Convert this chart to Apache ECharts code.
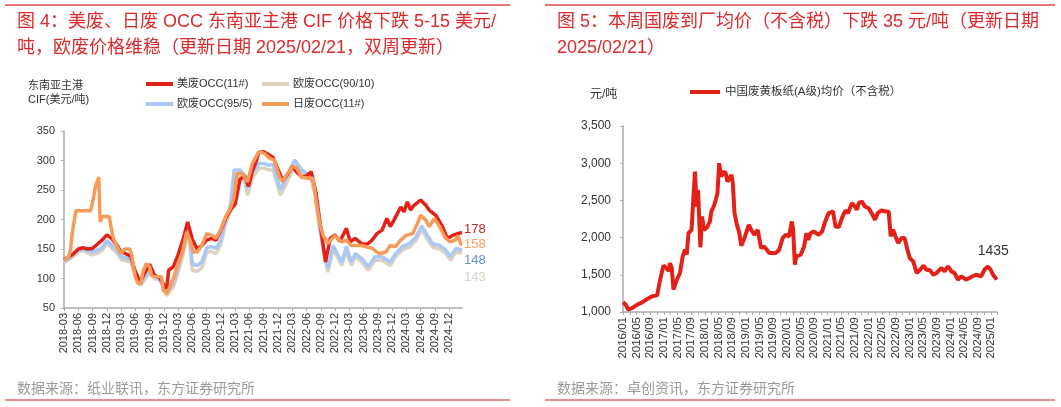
<!DOCTYPE html>
<html>
<head>
<meta charset="utf-8">
<title>废纸价格</title>
<script src="https://cdn.jsdelivr.net/npm/echarts@6/dist/echarts.min.js"></script>
<style>
  html, body { margin: 0; padding: 0; background: #fff; }
  #chart { width: 1061px; height: 407px; }
</style>
</head>
<body>
<div id="chart"></div>
<script>
// 左图：x = 自 2018-03 起的月数
const leftTicks = ['2018-03', '2018-06', '2018-09', '2018-12', '2019-03', '2019-06', '2019-09', '2019-12',
  '2020-03', '2020-06', '2020-09', '2020-12', '2021-03', '2021-06', '2021-09', '2021-12',
  '2022-03', '2022-06', '2022-09', '2022-12', '2023-03', '2023-06', '2023-09', '2023-12',
  '2024-03', '2024-06', '2024-09', '2024-12']

const usOcc11 = [[0,132],[1,137],[2,142],[3,150],[4,152],[5,150],[6,151],[7,158],[8,165],[9,174],[10,168],[11,158],[12,145],[13,142],[14,138],[15,112],[16,94],[17,110],[18,124],[19,106],[20,102],[21,90],[21.6,83],[22,114],[23,120],[24,140],[25,165],[26,196],[27,166],[28,150],[29,156],[30,165],[31,168],[32,165],[33,182],[34,202],[35,216],[36,226],[37,268],[38,274],[38.8,256],[39.6,282],[40.3,296],[41,314],[42,315],[43,310],[44,305],[45,285],[46,266],[47,276],[48,290],[49,280],[50,272],[51,274],[52,281],[53,245],[54,185],[55,128],[56,168],[57,174],[58,163],[59.4,185],[60.2,162],[61.2,168],[62.6,159],[63.7,158],[64.8,165],[65.8,176],[66.9,182],[67.9,202],[68.6,188],[69.4,199],[70.8,221],[71.5,213],[72.2,230],[72.9,216],[73.6,224],[75,233],[76.1,224],[76.8,216],[78.2,207],[79.6,188],[80.6,168],[81.7,173],[82.8,176],[83.7,178]]

const euOcc9010 = [[0,127],[1,132],[2,138],[3,145],[4,148],[5,143],[6,140],[7,143],[8,147],[9,160],[10,152],[11,145],[12,132],[13,130],[14,128],[15,105],[16,88],[17,98],[18,112],[19,100],[20,97],[21,85],[21.6,71],[22,74],[23,86],[24,110],[25,140],[26.2,178],[27,114],[28,112],[29,118],[30,145],[31,146],[32,142],[33,159],[34,193],[35,216],[35.8,268],[37,272],[38,264],[38.6,241],[39.6,270],[41,287],[42,287],[43,284],[44,284],[45.5,241],[47,265],[48.5,292],[50,278],[52,267],[52.7,245],[53.5,198],[54.5,148],[55.5,111],[56.6,151],[58.4,122],[59.4,148],[60.4,122],[61.3,137],[62.6,128],[64,114],[65.4,131],[66.9,131],[68.6,122],[69.7,137],[71.1,148],[72.6,153],[74,164],[75.2,183],[76.4,167],[77.5,153],[79,150],[80.3,142],[81.3,131],[82.4,145],[83.7,143]]

const euOcc955 = [[0,129],[1,134],[2,140],[3,148],[4,150],[5,147],[6,145],[7,148],[8,152],[9,164],[10,157],[11,150],[12,137],[13,135],[14,132],[15,108],[16,91],[17,102],[18,116],[19,103],[20,100],[21,88],[21.6,75],[22,78],[23,92],[24,118],[25,150],[26.2,188],[27,125],[28,122],[29,128],[30,152],[31,154],[32,151],[33,165],[34,199],[35,224],[35.8,284],[37,284],[38,275],[38.6,253],[39.6,278],[41,295],[42,295],[43,292],[44,293],[45.5,250],[47,275],[48.5,301],[50,284],[52,272],[52.7,255],[53.5,205],[54.5,154],[55.5,117],[56.6,156],[58.4,128],[59.4,154],[60.4,128],[61.3,142],[62.6,134],[64,120],[65.4,137],[66.9,137],[68.6,128],[69.7,142],[71.1,154],[72.6,159],[74,170],[75.2,189],[76.4,173],[77.5,159],[79,156],[80.3,148],[81.3,137],[82.4,151],[83.7,148]]

const jpOcc11 = [[0,130],[1,137],[1.4,150],[1.7,175],[2.5,215],[5.6,215],[6,228],[6.6,255],[7,255],[7.3,272],[7.6,196],[8.1,205],[9.5,205],[10.3,170],[11,156],[12,142],[12.7,150],[13.8,150],[14.2,142],[14.9,105],[15.5,92],[16.2,92],[16.6,111],[17.3,125],[18,120],[18.4,105],[19.5,103],[20.5,103],[20.9,80],[21.6,74],[22.3,86],[23,100],[24,125],[25,148],[25.8,179],[26.5,165],[27.2,145],[28,145],[29,156],[30,176],[31.1,173],[32,168],[32.9,182],[34,205],[35,219],[35.7,236],[36.4,278],[37.5,278],[38.6,264],[39.6,295],[41,315],[42.1,312],[43.2,304],[44.2,301],[45.3,272],[46,264],[47,278],[48,289],[48.8,289],[49.9,272],[51.3,270],[52.4,270],[53.1,227],[53.8,193],[54.5,173],[55.5,159],[57,173],[58.4,162],[59.4,165],[60.4,156],[62.6,156],[64.8,151],[66.3,142],[67.7,145],[68.6,156],[69.7,154],[70.8,165],[71.9,173],[73.3,176],[74.3,193],[75,207],[76.1,199],[76.8,188],[77.9,202],[79,188],[80.1,170],[81.2,162],[82.3,165],[82.8,173],[83.5,158],[83.7,158]]

// 右图：x = 自 2016/01 起的月数
const rightTicks = ['2016/01', '2016/05', '2016/09', '2017/01', '2017/05', '2017/09', '2018/01', '2018/05',
  '2018/09', '2019/01', '2019/05', '2019/09', '2020/01', '2020/05', '2020/09', '2021/01',
  '2021/05', '2021/09', '2022/01', '2022/05', '2022/09', '2023/01', '2023/05', '2023/09',
  '2024/01', '2024/05', '2024/09', '2025/01']

const cnBoardPrice = [[0,1130],[0.8,1099],[1.5,1031],[2.7,1054],[4.2,1099],[5.6,1130],[7.1,1175],[8.5,1210],[10,1224],[10.5,1345],[11.1,1479],[11.9,1625],[12.7,1590],[13.4,1550],[13.8,1658],[14.3,1590],[14.8,1300],[15.3,1278],[15.8,1434],[16.7,1524],[17.5,1747],[18.2,1837],[18.7,1770],[19.2,2060],[20.1,2105],[20.6,2508],[21.1,2888],[21.6,2418],[22,2642],[22.4,2195],[22.7,1870],[23.2,2284],[23.7,2105],[24.5,2128],[25.5,2217],[25.9,2351],[26.6,2418],[27.2,2508],[27.7,2597],[28.2,3000],[28.8,2821],[29.5,2888],[30.1,2866],[30.6,2754],[31.3,2799],[31.8,2843],[32.2,2731],[32.7,2329],[33.4,2172],[34,2083],[34.7,1890],[35.6,1993],[36.9,2172],[37.6,2105],[38.5,2038],[39.5,2105],[40.5,1859],[41.4,1881],[42.9,1792],[44.8,1792],[45.8,1837],[46.8,1993],[47.7,2038],[48.7,2016],[49.5,2217],[49.9,2100],[50.4,1635],[50.8,1747],[52.1,1770],[53.1,1881],[53.8,2060],[54.3,1971],[55,2060],[55.9,2083],[57.4,2038],[58.4,2083],[59.3,2217],[60.3,2329],[61.6,2351],[62.3,2150],[63.3,2141],[64.2,2262],[65.2,2365],[66,2329],[67.1,2463],[68,2418],[68.6,2374],[69.1,2463],[70.1,2485],[70.9,2418],[72,2396],[72.9,2329],[73.9,2239],[74.7,2329],[75.8,2365],[77,2351],[77.9,2351],[78.5,2016],[79.2,2105],[79.9,2016],[80.7,1926],[81.7,1993],[82.6,1993],[83.4,1837],[84.1,1725],[85.1,1680],[86.1,1524],[87.1,1568],[88.1,1622],[89,1568],[90,1560],[91,1501],[91.9,1524],[93.3,1591],[94.3,1546],[95.3,1613],[96.3,1546],[97.2,1524],[98.2,1434],[99.2,1479],[100.6,1434],[102.1,1470],[103.5,1501],[105,1479],[106,1568],[107,1613],[107.8,1568],[108.5,1501],[109.6,1435]]

const FONT = "'Liberation Sans', 'Noto Sans CJK SC', sans-serif"
const titleStyle = { color: '#dc2a2d', fontSize: 18, fontFamily: FONT, fontWeight: 'normal' }
const srcStyle = { color: '#9a9a9a', fontSize: 14, fontFamily: FONT, fontWeight: 'normal' }
const axisGray = '#aaaaaa'

function lineSeries(name, data, color, xi, width, extra) {
  return Object.assign({
    name: name,
    type: 'line',
    data: data,
    xAxisIndex: xi,
    yAxisIndex: xi,
    showSymbol: false,
    symbol: 'none',
    lineStyle: { width: width, color: color },
    itemStyle: { color: color },
    emphasis: { disabled: true }
  }, extra || {})
}

function endLabel(color, dy, size) {
  return {
    show: true,
    distance: 2,
    offset: [0, dy],
    color: color,
    fontSize: size,
    fontFamily: FONT,
    formatter: p => String(p.value[1])
  }
}

const chart = echarts.init(document.getElementById('chart'))
const option = {
  animation: false,
  backgroundColor: '#fff',
  title: [
    { text: '图 4：美废、日废 OCC 东南亚主港 CIF 价格下跌 5-15 美元/', left: 17, top: 13, padding: 0, textStyle: titleStyle },
    { text: '吨，欧废价格维稳（更新日期 2025/02/21，双周更新）', left: 17, top: 39, padding: 0, textStyle: titleStyle },
    { text: '图 5：本周国废到厂均价（不含税）下跌 35 元/吨（更新日期', left: 557, top: 13, padding: 0, textStyle: titleStyle },
    { text: '2025/02/21）', left: 557, top: 39, padding: 0, textStyle: titleStyle },
    { text: '东南亚主港\nCIF(美元/吨)', left: 28, top: 79, padding: 0,
      textStyle: { color: '#333', fontSize: 11, lineHeight: 14, fontFamily: FONT, fontWeight: 'normal' } },
    { text: '元/吨', left: 590, top: 89, padding: 0,
      textStyle: { color: '#333', fontSize: 12, fontFamily: FONT, fontWeight: 'normal' } },
    { text: '数据来源：纸业联讯，东方证券研究所', left: 17, top: 382, padding: 0, textStyle: srcStyle },
    { text: '数据来源：卓创资讯，东方证券研究所', left: 557, top: 382, padding: 0, textStyle: srcStyle }
  ],
  graphic: [
    { type: 'line', shape: { x1: 5, y1: 5, x2: 510, y2: 5 }, style: { stroke: '#e2474b', lineWidth: 1.5 } },
    { type: 'line', shape: { x1: 545, y1: 5, x2: 1055, y2: 5 }, style: { stroke: '#e2474b', lineWidth: 1.5 } },
    { type: 'line', shape: { x1: 5, y1: 400, x2: 510, y2: 400 }, style: { stroke: '#ea8f8c', lineWidth: 2 } },
    { type: 'line', shape: { x1: 545, y1: 400, x2: 1055, y2: 400 }, style: { stroke: '#ea8f8c', lineWidth: 2 } }
  ],
  legend: [
    {
      data: ['美废OCC(11#)', '欧废OCC(95/5)'], orient: 'vertical', left: 146, top: 78, padding: 0,
      itemGap: 8, itemWidth: 27, itemHeight: 4, icon: 'rect', selectedMode: false,
      textStyle: { fontSize: 11, color: '#333', lineHeight: 12, fontFamily: FONT, padding: [0, 0, 0, -1] }
    },
    {
      data: ['欧废OCC(90/10)', '日废OCC(11#)'], orient: 'vertical', left: 262, top: 78, padding: 0,
      itemGap: 8, itemWidth: 27, itemHeight: 4, icon: 'rect', selectedMode: false,
      textStyle: { fontSize: 11, color: '#333', lineHeight: 12, fontFamily: FONT, padding: [0, 0, 0, -1] }
    },
    {
      data: ['中国废黄板纸(A级)均价（不含税）'], left: 690, top: 86, padding: 0,
      itemWidth: 30, itemHeight: 4, icon: 'rect', selectedMode: false,
      textStyle: { fontSize: 11.5, color: '#333', lineHeight: 12, fontFamily: FONT }
    }
  ],
  grid: [
    { left: 64, top: 131, width: 398, height: 177 },
    { left: 623, top: 126, width: 374, height: 186 }
  ],
  xAxis: [
    {
      type: 'value', gridIndex: 0, min: 0, max: 83.7, interval: 3,
      axisLine: { lineStyle: { color: axisGray, width: 1.5 } },
      axisTick: { length: 3, lineStyle: { color: axisGray } },
      splitLine: { show: false },
      axisLabel: {
        rotate: 90, fontSize: 11, color: '#333', margin: 5, fontFamily: FONT, showMaxLabel: false,
        formatter: v => (v % 3 === 0 && leftTicks[v / 3]) ? leftTicks[v / 3] : ''
      }
    },
    {
      type: 'value', gridIndex: 1, min: 0, max: 109.67, interval: 4,
      axisLine: { lineStyle: { color: axisGray, width: 1.5 } },
      axisTick: { length: 3, lineStyle: { color: axisGray } },
      minorTick: { show: true, splitNumber: 2, length: 3, lineStyle: { color: axisGray } },
      splitLine: { show: false },
      axisLabel: {
        rotate: 90, fontSize: 11.5, color: '#333', margin: 5, fontFamily: FONT, showMaxLabel: false,
        formatter: v => (v % 4 === 0 && rightTicks[v / 4]) ? rightTicks[v / 4] : ''
      }
    }
  ],
  yAxis: [
    {
      type: 'value', gridIndex: 0, min: 50, max: 350, interval: 50,
      axisLine: { show: true, lineStyle: { color: axisGray, width: 1.5 } },
      axisTick: { show: true, length: 3, lineStyle: { color: axisGray } },
      splitLine: { show: false },
      axisLabel: { fontSize: 11, color: '#333', margin: 9, fontFamily: FONT }
    },
    {
      type: 'value', gridIndex: 1, min: 1000, max: 3500, interval: 500,
      axisLine: { show: true, lineStyle: { color: axisGray, width: 1.5 } },
      axisTick: { show: true, length: 3, lineStyle: { color: axisGray } },
      splitLine: { show: false },
      axisLabel: { fontSize: 12, color: '#333', margin: 12, fontFamily: FONT,
        formatter: v => v.toLocaleString('en-US') }
    }
  ],
  series: [
    lineSeries('欧废OCC(90/10)', euOcc9010, '#ddd2bd', 0, 3.5, { endLabel: endLabel('#ddd3c2', 24, 13) }),
    lineSeries('欧废OCC(95/5)', euOcc955, '#a8c8f8', 0, 3.5, { endLabel: endLabel('#5f8fd6', 10, 13) }),
    lineSeries('美废OCC(11#)', usOcc11, '#e32119', 0, 3.5, { endLabel: endLabel('#c8282a', -3.5, 13) }),
    lineSeries('日废OCC(11#)', jpOcc11, '#f79b58', 0, 3.5, { endLabel: endLabel('#f6a25e', 0, 13) }),
    lineSeries('中国废黄板纸(A级)均价（不含税）', cnBoardPrice, '#e32119', 1, 4, {
      endLabel: { show: true, distance: 0, offset: [-19, -28], color: '#333', fontSize: 14, fontFamily: FONT,
        formatter: p => String(p.value[1]) }
    })
  ]
}
chart.setOption(option)
</script>
</body>
</html>
